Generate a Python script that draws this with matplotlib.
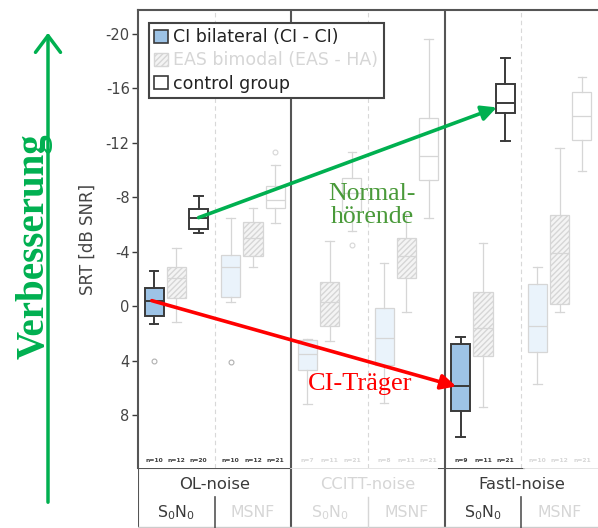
"""
SRT boxplots (CI bilateral / EAS bimodal / control group) for three noise
types, with the OL-noise and Fastl-noise S0N0 conditions highlighted.
"""

import numpy as np
import matplotlib

matplotlib.use("Agg")
import matplotlib.pyplot as plt
from matplotlib.patches import Patch, FancyArrowPatch

plt.rcParams["axes.unicode_minus"] = False

# ---------------------------------------------------------------------------
# Data (SRT in dB SNR)
# order of sub-conditions: OL S0N0, OL MSNF, CCITT S0N0, CCITT MSNF,
#                          Fastl S0N0, Fastl MSNF
# ---------------------------------------------------------------------------
noises = ["OL-noise", "CCITT-noise", "Fastl-noise"]
conditions = [r"S$_0$N$_0$", "MSNF"]
groups = ["CI bilateral (CI - CI)", "EAS bimodal (EAS - HA)", "control group"]

ci_lo = [-2.6, -6.5, 2.4, -3.2, 2.3, -2.9]
ci_q1 = [-1.3, -3.75, 2.5, 0.15, 2.8, -1.6]
ci_med = [-0.4, -2.9, 3.5, 2.35, 5.9, 1.5]
ci_q3 = [0.7, -0.7, 4.7, 4.3, 7.7, 3.4]
ci_hi = [1.3, -0.3, 7.2, 7.1, 9.6, 5.7]
ci_fl = [[4.0], [4.1], [], [], [], []]
ci_n = [10, 10, 7, 8, 9, 10]

eas_lo = [-4.3, -7.2, -4.8, -6.8, -4.6, -11.6]
eas_q1 = [-2.9, -6.2, -1.8, -5.0, -1.0, -6.7]
eas_med = [-2.1, -5.0, -0.3, -3.7, 1.6, -3.9]
eas_q3 = [-0.6, -3.7, 1.5, -2.1, 3.7, -0.15]
eas_hi = [1.2, -2.9, 2.6, 0.4, 7.4, 0.45]
eas_fl = [[], [], [], [], [], []]
eas_n = [12, 12, 11, 11, 11, 12]

ctl_lo = [-8.1, -10.4, -11.3, -19.6, -18.2, -16.8]
ctl_q1 = [-7.1, -8.8, -9.4, -13.8, -16.3, -15.7]
ctl_med = [-6.5, -7.8, -8.3, -11.0, -14.9, -14.0]
ctl_q3 = [-5.7, -7.2, -7.0, -9.3, -14.2, -12.2]
ctl_hi = [-5.4, -6.1, -5.5, -6.5, -12.1, -9.9]
ctl_fl = [[], [-11.3], [-4.5], [], [], []]
ctl_n = [20, 21, 21, 21, 21, 21]

yticks = [-20, -16, -12, -8, -4, 0, 4, 8]

# ---------------------------------------------------------------------------
# Style
# ---------------------------------------------------------------------------
W, H = 598, 528
DARK = "#3a3a3a"
FADE = "#d6d6d6"
BLUE = "#9dc3e6"
BLUE_FADE = "#eaf3fb"
GREEN = "#00b050"
GREEN_TXT = "#4a9a3a"
OFFS = [0.21, 0.50, 0.79]
BOXW = 0.25


def fx(px):
    return px / W


def fy(py):
    return 1.0 - py / H


def box_style(g, active):
    if g == 0:
        fc = BLUE if active else BLUE_FADE
    elif g == 1:
        fc = "#f4f4f4"
    else:
        fc = "white"
    ec = DARK if active else FADE
    return fc, ec


def main() -> None:
    fig = plt.figure(figsize=(W / 100, H / 100), dpi=100)
    ax = fig.add_axes([fx(138), fy(468), fx(598) - fx(138), fy(10) - fy(468)])

    series = [
        (ci_lo, ci_q1, ci_med, ci_q3, ci_hi, ci_fl, ci_n),
        (eas_lo, eas_q1, eas_med, eas_q3, eas_hi, eas_fl, eas_n),
        (ctl_lo, ctl_q1, ctl_med, ctl_q3, ctl_hi, ctl_fl, ctl_n),
    ]
    active_sub = {0: [0, 2], 4: [0, 2]}  # highlighted boxes
    n_dark_sub = [0, 1, 4]

    for g, (lo, q1, med, q3, hi, fl, nn) in enumerate(series):
        for s in range(6):
            active = g in active_sub.get(s, [])
            fc, ec = box_style(g, active)
            lw = 1.4 if active else 0.9
            stats = [dict(whislo=lo[s], q1=q1[s], med=med[s], q3=q3[s],
                          whishi=hi[s], fliers=fl[s])]
            res = ax.bxp(stats, positions=[s + OFFS[g]], widths=BOXW,
                         capwidths=BOXW * 0.45, patch_artist=True,
                         manage_ticks=False,
                         boxprops=dict(facecolor=fc, edgecolor=ec, linewidth=lw),
                         whiskerprops=dict(color=ec, linewidth=lw),
                         capprops=dict(color=ec, linewidth=lw),
                         medianprops=dict(color=ec, linewidth=lw),
                         flierprops=dict(marker="o", markersize=3.5,
                                         markerfacecolor="white",
                                         markeredgecolor="#b0b0b0" if active or g == 0 else FADE,
                                         markeredgewidth=0.8))
            if g == 1:
                for b in res["boxes"]:
                    b.set_hatch("//////")
            ncol = DARK if s in n_dark_sub else FADE
            ax.text(s + OFFS[g], 11.35, f"n={nn[s]}", ha="center", va="center",
                    fontsize=4.3, fontweight="bold", color=ncol)

    ax.set_xlim(0, 6)
    ax.set_ylim(11.9, -21.76)
    ax.set_yticks(yticks)
    ax.set_yticklabels([str(t) for t in yticks])
    ax.set_xticks([])
    ax.tick_params(axis="y", direction="out", length=4, width=1, color=DARK,
                   labelsize=10.5, labelcolor="#444444", pad=2)
    for side in ("right", "bottom"):
        ax.spines[side].set_visible(False)
    for side in ("left", "top"):
        ax.spines[side].set_color("#555555")
        ax.spines[side].set_linewidth(1.5)
    for xv in (2, 4):
        ax.axvline(xv, color="#555555", linewidth=1.5)
    for xv in (1, 3, 5):
        ax.axvline(xv, color="#d8d8d8", linewidth=0.8, linestyle=(0, (4, 3)))

    ax.set_ylabel("SRT [dB SNR]", fontsize=12, color="#444444", labelpad=6)

    # --- Category table below the plot ----------------------------------
    tab = fig.add_axes([fx(138), 0.0, fx(598) - fx(138), fy(468)])
    tab.set_xlim(0, 6)
    tab.set_ylim(0, 1)
    tab.axis("off")
    tab.plot([0, 0], [0, 1], color="#555555", lw=1.5)
    tab.plot([2, 2], [0, 1], color="#555555", lw=1.5)
    tab.plot([4, 4], [0, 1], color="#555555", lw=1.5)
    tab.plot([0, 2], [1, 1], color="#555555", lw=1.5)
    tab.plot([2, 3.93], [1, 1], color="#e0e0e0", lw=1.2)
    tab.plot([3.93, 5.03], [1, 1], color="#555555", lw=1.5)
    tab.plot([5.03, 6], [1, 1], color="#e0e0e0", lw=1.2)
    tab.plot([0, 6], [0.01, 0.01], color="#cccccc", lw=1.0)
    tab.plot([1, 1], [0, 0.52], color="#555555", lw=1.2)
    tab.plot([3, 3], [0, 0.52], color=FADE, lw=1.0)
    tab.plot([5, 5], [0, 0.52], color="#555555", lw=1.2)

    noise_col = [DARK, FADE, DARK]
    cond_col = [[DARK, FADE], [FADE, FADE], [DARK, FADE]]
    for i, name in enumerate(noises):
        tab.text(2 * i + 1, 0.72, name, ha="center", va="center",
                 fontsize=11.8, color=noise_col[i])
        for j, cond in enumerate(conditions):
            tab.text(2 * i + j + 0.5, 0.26, cond, ha="center", va="center",
                     fontsize=11.3, color=cond_col[i][j])

    # --- Legend -----------------------------------------------------------
    handles = [
        Patch(facecolor=BLUE, edgecolor=DARK, linewidth=1.2),
        Patch(facecolor="#f4f4f4", edgecolor=FADE, hatch="//////", linewidth=1),
        Patch(facecolor="white", edgecolor=DARK, linewidth=1.2),
    ]
    leg = fig.legend(handles, groups, loc="upper left",
                     bbox_to_anchor=(fx(149), fy(23)), borderaxespad=0,
                     fontsize=12.5, handlelength=0.8, handleheight=0.8,
                     handletextpad=0.3, labelspacing=0.3, borderpad=0.3,
                     fancybox=False, framealpha=1)
    leg.get_frame().set_edgecolor("#444444")
    leg.get_frame().set_linewidth(1.5)
    for t, c in zip(leg.get_texts(), ["#222222", FADE, "#222222"]):
        t.set_color(c)

    # --- Annotations ------------------------------------------------------
    ax.annotate("", xy=(4 + OFFS[0] - 0.06, ci_med[4]),
                xytext=(OFFS[0] - 0.03, ci_med[0]),
                arrowprops=dict(arrowstyle="-|>,head_length=0.9,head_width=0.45",
                                color="#ff0000", lw=2.6, shrinkA=0, shrinkB=0))
    ax.annotate("", xy=(4 + OFFS[2] - 0.11, ctl_med[4] + 0.3),
                xytext=(OFFS[2], ctl_med[0]),
                arrowprops=dict(arrowstyle="-|>,head_length=0.9,head_width=0.45",
                                color=GREEN, lw=2.6, shrinkA=0, shrinkB=0))
    ax.text(2.9, 5.7, "CI-Träger", ha="center", va="center", fontsize=19,
            family="Liberation Serif", color="#ff0000")
    ax.text(3.05, -7.4, "Normal-\nhörende", ha="center", va="center",
            fontsize=18.5, family="Liberation Serif", color=GREEN_TXT,
            linespacing=1.05)

    fig.add_artist(FancyArrowPatch((fx(48), fy(505)), (fx(48), fy(30)),
                                   transform=fig.transFigure,
                                   arrowstyle="->,head_length=8,head_width=6",
                                   color=GREEN, lw=2.5, mutation_scale=1.5))
    fig.text(fx(34), fy(246), "Verbesserung", rotation=90, ha="center",
             va="center", fontsize=28, fontweight="bold",
             family="Liberation Serif", color=GREEN)

    fig.savefig("out.png", dpi=100)


if __name__ == "__main__":
    main()
